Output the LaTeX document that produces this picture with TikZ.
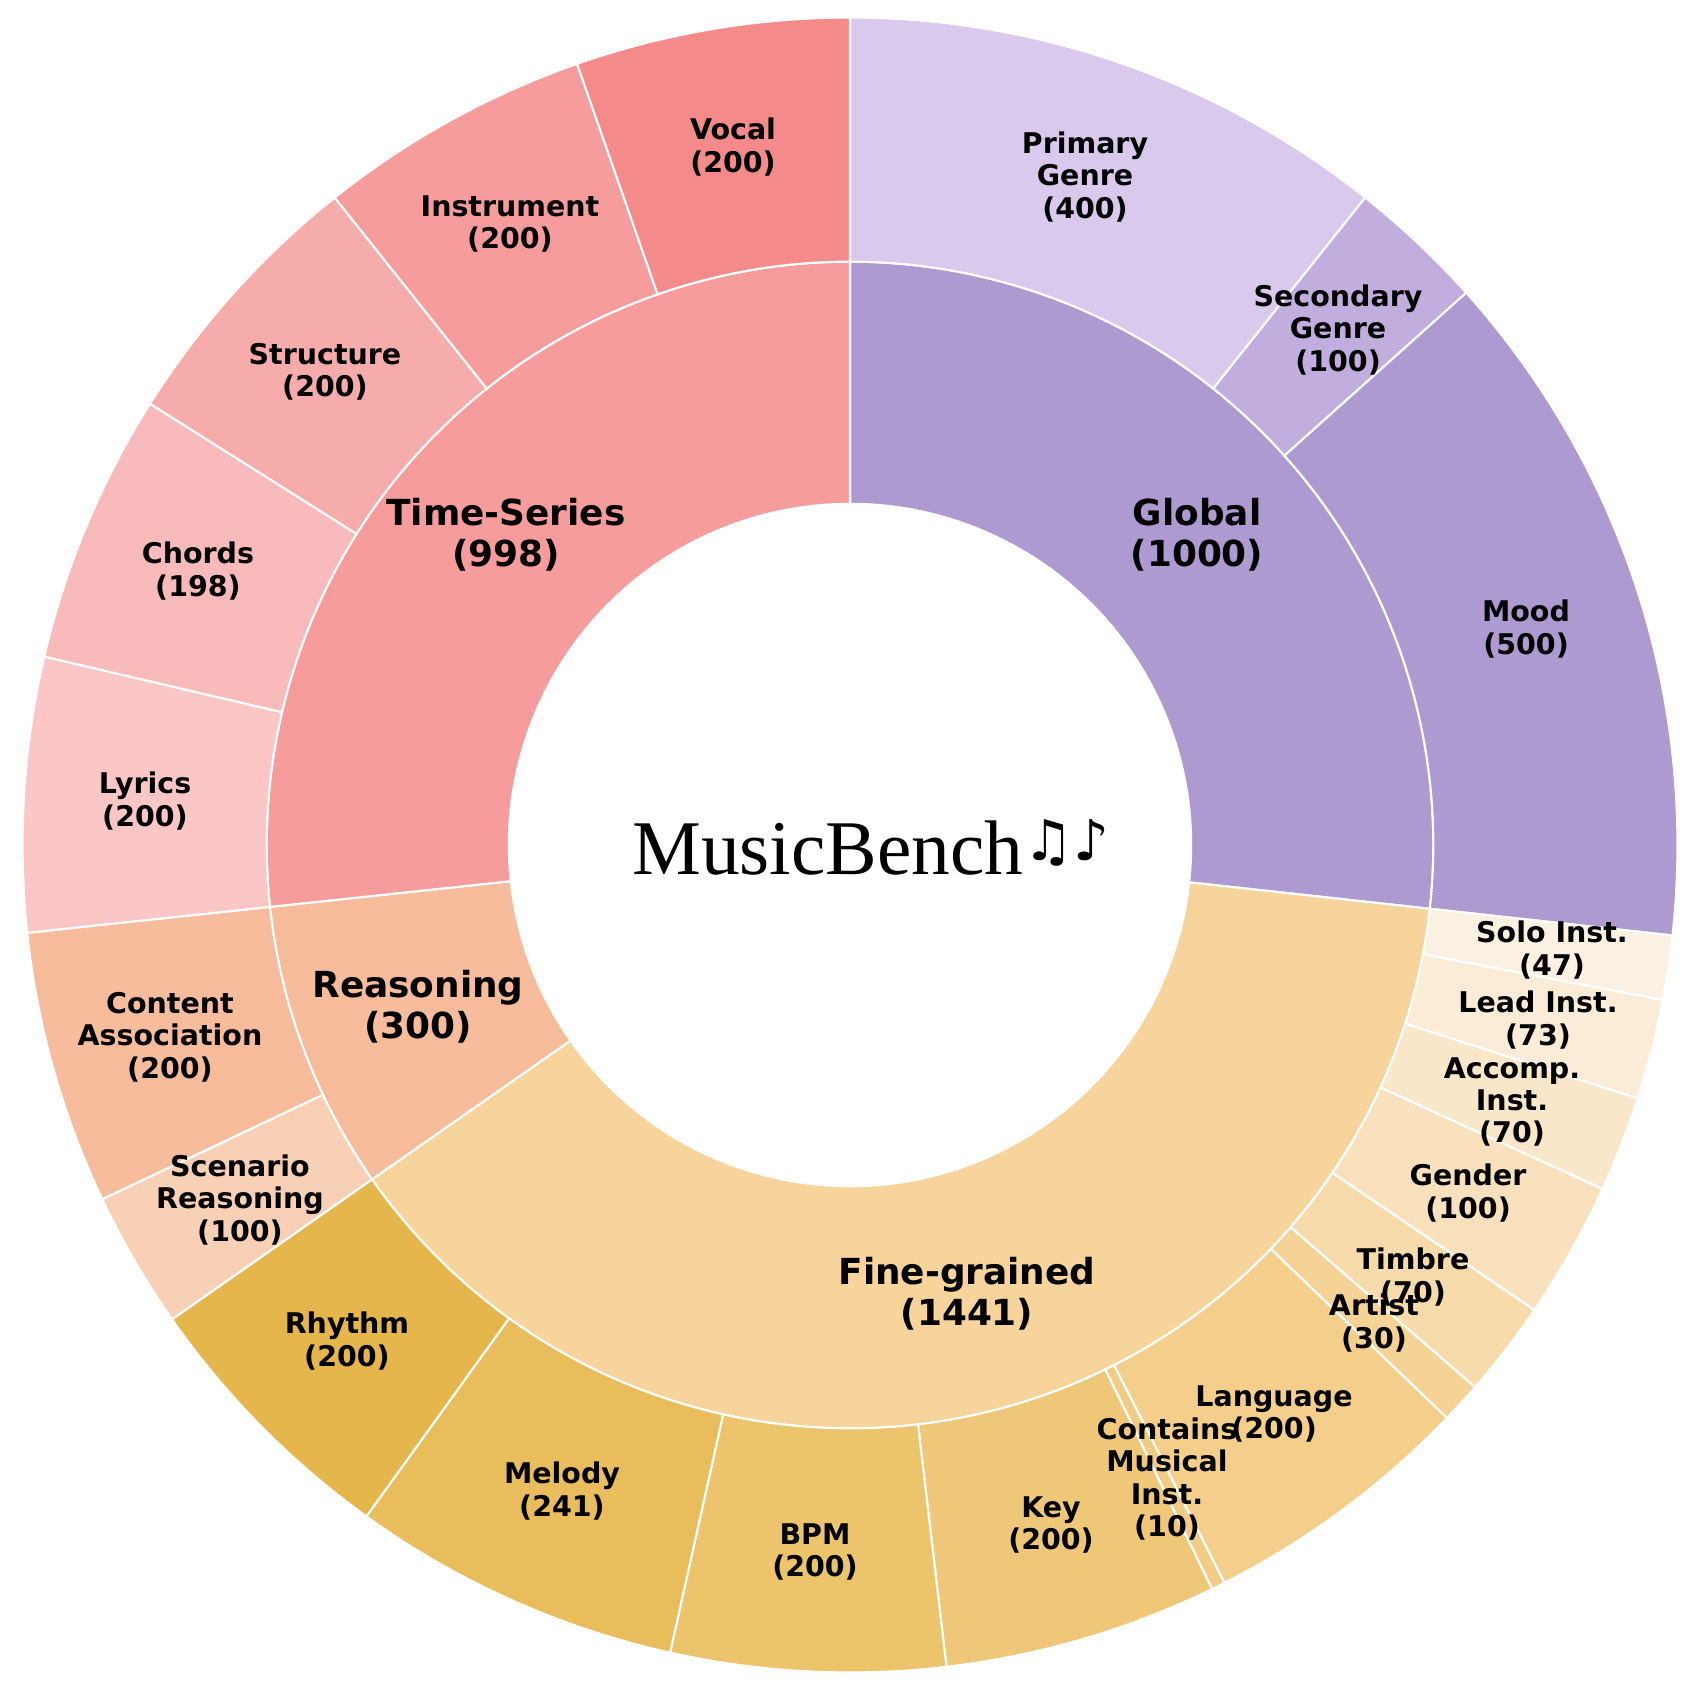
\documentclass[tikz,border=0pt]{standalone}
\usepackage{fontspec}
\newfontfamily\lblfont{DejaVu Sans}
\newfontfamily\notefont{DejaVu Sans}
\newfontfamily\titlefont{Liberation Serif}
\definecolor{glob}{HTML}{AD9AD1}
\definecolor{primg}{HTML}{D9C9EC}
\definecolor{secg}{HTML}{C1AEDF}
\definecolor{tser}{HTML}{F69C9C}
\definecolor{voc}{HTML}{F58A8A}
\definecolor{strc}{HTML}{F7ACAC}
\definecolor{chrd}{HTML}{F8BABA}
\definecolor{lyr}{HTML}{FAC6C6}
\definecolor{reas}{HTML}{F7BC9C}
\definecolor{scen}{HTML}{F7D0B5}
\definecolor{fine}{HTML}{F7D49C}
\definecolor{rhy}{HTML}{E4B64C}
\definecolor{mel}{HTML}{E9BC5C}
\definecolor{bpm}{HTML}{ECC46C}
\definecolor{keyc}{HTML}{EFC778}
\definecolor{cont}{HTML}{F2CC86}
\definecolor{lang}{HTML}{F4CF8C}
\definecolor{art}{HTML}{F5D396}
\definecolor{timb}{HTML}{F7DBAA}
\definecolor{gend}{HTML}{F8E1BC}
\definecolor{acc}{HTML}{F9E7CA}
\definecolor{lead}{HTML}{FAECD7}
\definecolor{solo}{HTML}{FBF1E3}
\tikzset{
  wedge/.style = {draw=white, line width=0.6pt},
  leaf_lbl/.style = {align=center, inner sep=0pt, font=\lblfont\bfseries\fontsize{8.1}{9.2}\selectfont},% outer ring label
  cat_lbl/.style = {align=center, inner sep=0pt, font=\lblfont\bfseries\fontsize{10.2}{11.7}\selectfont}% inner ring label
}
\begin{document}
\begin{tikzpicture}[x=0.01cm, y=0.01cm]
\useasboundingbox (-850,-846) rectangle (847,845);
% inner ring
\foreach \s/\e/\c in {0/1000/glob, 1000/2441/fine, 2441/2741/reas, 2741/3739/tser}{
  \pgfmathsetmacro\sa{90-\s/3739*360}
  \pgfmathsetmacro\ea{90-\e/3739*360}
  \fill[\c, wedge] (\sa:3.41cm) arc[start angle=\sa, end angle=\ea, radius=3.41cm]
    -- (\ea:5.83cm) arc[start angle=\ea, end angle=\sa, radius=5.83cm] -- cycle;
}
% outer ring
\foreach \s/\e/\c in {0/400/primg, 400/500/secg, 500/1000/glob,
  1000/1047/solo, 1047/1120/lead, 1120/1190/acc, 1190/1290/gend, 1290/1360/timb,
  1360/1390/art, 1390/1590/lang, 1590/1600/cont, 1600/1800/keyc, 1800/2000/bpm,
  2000/2241/mel, 2241/2441/rhy, 2441/2541/scen, 2541/2741/reas,
  2741/2941/lyr, 2941/3139/chrd, 3139/3339/strc, 3339/3539/tser, 3539/3739/voc}{
  \pgfmathsetmacro\sa{90-\s/3739*360}
  \pgfmathsetmacro\ea{90-\e/3739*360}
  \fill[\c, wedge] (\sa:5.83cm) arc[start angle=\sa, end angle=\ea, radius=5.83cm]
    -- (\ea:8.27cm) arc[start angle=\ea, end angle=\sa, radius=8.27cm] -- cycle;
}
% title
\node (title) at (21,-2) {\titlefont\fontsize{22}{24}\selectfont MusicBench{\notefont\fontsize{16}{20}\selectfont\raisebox{4pt}{♫♪}}};
% inner labels
\node[cat_lbl] (global) at (347,310) {Global\\(1000)};
\node[cat_lbl] (tseries) at (-344,310) {Time-Series\\(998)};
\node[cat_lbl] (reasoning) at (-432,-162) {Reasoning\\(300)};
\node[cat_lbl] (finegr) at (117,-449) {Fine-grained\\(1441)};
% outer labels
\node[leaf_lbl] (primary) at (235,668) {Primary\\Genre\\(400)};
\node[leaf_lbl] (secondary) at (488,515) {Secondary\\Genre\\(100)};
\node[leaf_lbl] (mood) at (676,216) {Mood\\(500)};
\node[leaf_lbl] (solo) at (702,-105) {Solo Inst.\\(47)};
\node[leaf_lbl] (lead) at (688,-175) {Lead Inst.\\(73)};
\node[leaf_lbl] (accomp) at (662,-257) {Accomp.\\Inst.\\(70)};
\node[leaf_lbl] (gender) at (618,-348) {Gender\\(100)};
\node[leaf_lbl] (timbre) at (563,-432) {Timbre\\(70)};
\node[leaf_lbl] (artist) at (524,-478) {Artist\\(30)};
\node[leaf_lbl] (language) at (424,-569) {Language\\(200)};
\node[leaf_lbl] (contains) at (317,-634) {Contains\\Musical\\Inst.\\(10)};
\node[leaf_lbl] (key) at (201,-680) {Key\\(200)};
\node[leaf_lbl] (bpm) at (-35,-707) {BPM\\(200)};
\node[leaf_lbl] (melody) at (-288,-646) {Melody\\(241)};
\node[leaf_lbl] (rhythm) at (-503,-496) {Rhythm\\(200)};
\node[leaf_lbl] (scenario) at (-610,-355) {Scenario\\Reasoning\\(100)};
\node[leaf_lbl] (content) at (-680,-192) {Content\\Association\\(200)};
\node[leaf_lbl] (lyrics) at (-705,44) {Lyrics\\(200)};
\node[leaf_lbl] (chords) at (-652,274) {Chords\\(198)};
\node[leaf_lbl] (structure) at (-525,473) {Structure\\(200)};
\node[leaf_lbl] (instrument) at (-340,621) {Instrument\\(200)};
\node[leaf_lbl] (vocal) at (-117,698) {Vocal\\(200)};
\end{tikzpicture}
\end{document}
